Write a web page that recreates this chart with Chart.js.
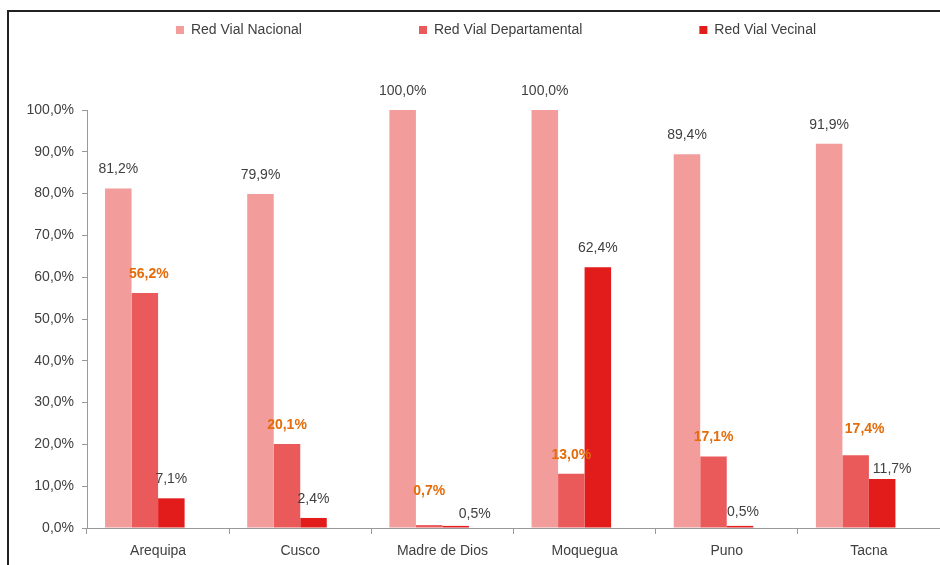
<!DOCTYPE html>
<html>
<head>
<meta charset="utf-8">
<script src="https://cdn.jsdelivr.net/npm/chart.js@4.4.1/dist/chart.umd.min.js"></script>
<style>
  body { margin: 0; background: #fff; }
  #wrap { position: relative; width: 940px; height: 565px; overflow: hidden; }
  #frame { position: absolute; left: 7px; top: 10px; right: -4px; bottom: -4px;
           border-top: 2px solid #222; border-left: 2px solid #222; }
  #myChart { position: absolute; left: 0; top: 0; }
</style>
</head>
<body>
<div id="wrap">
  <div id="frame"></div>
  <canvas id="myChart" width="940" height="565"></canvas>
</div>
<script>
var regiones = ["Arequipa", "Cusco", "Madre de Dios", "Moquegua", "Puno", "Tacna"];
var redNacional = [81.2, 79.9, 100.0, 100.0, 89.4, 91.9];
var redDepartamental = [56.2, 20.1, 0.7, 13.0, 17.1, 17.4];
var redVecinal = [7.1, 2.4, 0.5, 62.4, 0.5, 11.7];
// empty fourth series in the original Excel chart, it only takes space in each group
var serieVacia = [null, null, null, null, null, null];

// labels that were moved by hand in the original: "dataset:index" -> [dx, dy]
var ajusteEtiquetas = {
    "1:0": [4, 0],
    "1:2": [0, -15],
    "2:2": [19, 7],
    "2:4": [3, 5],
    "1:5": [9, -7],
    "2:5": [10, 9]
};

function pct(v) {
    return v.toFixed(1).replace(".", ",") + "%";
}

Chart.defaults.font.family = "'Liberation Sans', Arial, sans-serif";
Chart.defaults.font.size = 14;
Chart.defaults.color = "#404040";

// writes the value above each bar
var etiquetas = {
    id: "etiquetas",
    afterDatasetsDraw: function(chart) {
        var ctx = chart.ctx;
        ctx.save();
        ctx.textAlign = "center";
        ctx.textBaseline = "middle";
        chart.data.datasets.forEach(function(ds, i) {
            if (!ds.labelColor) return;
            var meta = chart.getDatasetMeta(i);
            ctx.fillStyle = ds.labelColor;
            ctx.font = (ds.labelBold ? "bold " : "") + "14px 'Liberation Sans', Arial, sans-serif";
            meta.data.forEach(function(bar, j) {
                var v = ds.data[j];
                if (v === null) return;
                var adj = ajusteEtiquetas[i + ":" + j] || [0, 0];
                ctx.fillText(pct(v), bar.x + adj[0], bar.y - 19 + adj[1]);
            });
        });
        ctx.restore();
    }
};

// spreads the legend like the Excel one without pushing it down
var leyenda = {
    id: "leyenda",
    afterLayout: function(chart) {
        var lg = chart.legend;
        var pad = lg.options.labels.padding;
        lg.top = 23 - pad;
        lg.left += 24;
        lg.right += 24;
    }
};

var ctx = document.getElementById("myChart").getContext("2d");
var chart = new Chart(ctx, {
    type: "bar",
    data: {
        labels: regiones,
        datasets: [{
            label: "Red Vial Nacional",
            data: redNacional,
            backgroundColor: "#F29C9C",
            labelColor: "#404040"
        }, {
            label: "Red Vial Departamental",
            data: redDepartamental,
            backgroundColor: "#EB5A5A",
            labelColor: "#E46C0A",
            labelBold: true
        }, {
            label: "Red Vial Vecinal",
            data: redVecinal,
            backgroundColor: "#E21B1B",
            labelColor: "#404040"
        }, {
            label: "",
            data: serieVacia,
            backgroundColor: "rgba(0,0,0,0)"
        }]
    },
    options: {
        responsive: false,
        animation: false,
        datasets: {
            bar: { categoryPercentage: 0.746, barPercentage: 1.0 }
        },
        layout: { padding: { left: 0, right: -4, top: 0, bottom: 0 } },
        plugins: {
            legend: {
                position: "top",
                maxHeight: 110,
                labels: {
                    boxWidth: 8,
                    boxHeight: 8,
                    padding: 117,
                    color: "#404040",
                    filter: function(item) { return item.datasetIndex < 3; }
                }
            },
            tooltip: { enabled: false }
        },
        scales: {
            x: {
                grid: { drawOnChartArea: false, tickLength: 6, color: "#999" },
                border: { color: "#999" },
                ticks: { padding: 9, color: "#404040" },
                afterFit: function(scale) { scale.height = 37; }
            },
            y: {
                min: 0,
                max: 100,
                grid: { drawOnChartArea: false, tickLength: 5, color: "#999" },
                border: { color: "#999" },
                ticks: {
                    stepSize: 10,
                    padding: 8,
                    color: "#404040",
                    callback: function(v) { return pct(v); }
                },
                afterFit: function(scale) { scale.width = 87; }
            }
        }
    },
    plugins: [etiquetas, leyenda]
});
</script>
</body>
</html>
